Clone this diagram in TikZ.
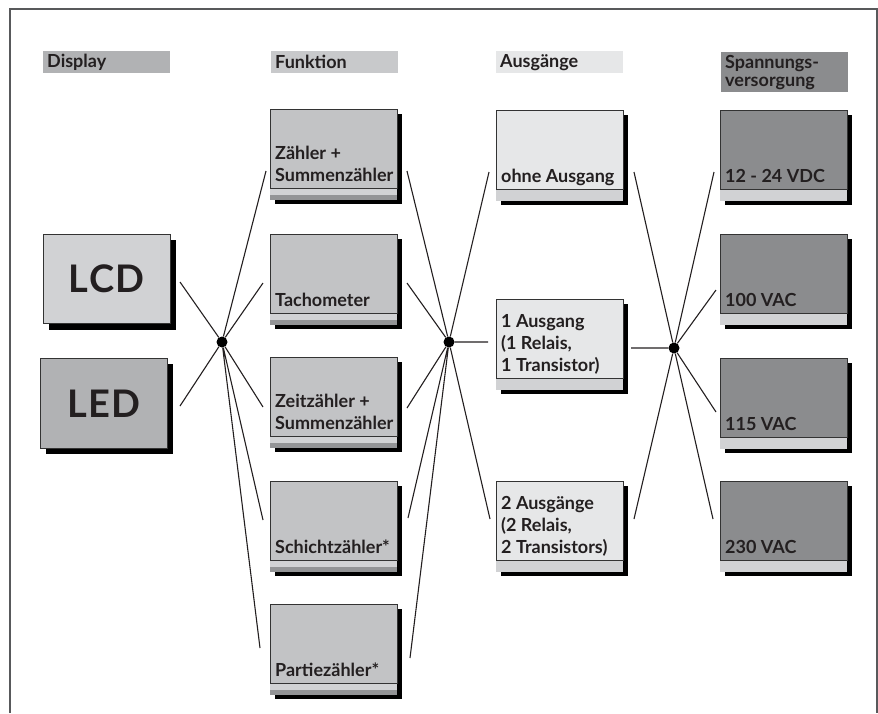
\documentclass[tikz,border=0pt]{standalone}
\usepackage{fontspec}
\setmainfont{Lato}
\usetikzlibrary{calc}

\definecolor{textgrau}{HTML}{231F20}
\definecolor{rahmengrau}{HTML}{58595B}
\definecolor{dispgrau}{HTML}{B1B2B4}
\definecolor{hellgrau}{HTML}{D1D2D4}
\definecolor{funkgrau}{HTML}{C2C3C5}
\definecolor{kopfgrau}{HTML}{C8C9CB}
\definecolor{ausgrau}{HTML}{E6E7E8}
\definecolor{spanngrau}{HTML}{8B8C8E}
\definecolor{streifengrau}{HTML}{939496}

\tikzset{
  kasten/.style={draw=black!80, line width=0.6pt, anchor=north west,
    minimum width=127pt, minimum height=79pt, inner sep=0pt},
  beschriftung/.style={anchor=south west, inner xsep=5pt, inner ysep=4pt,
    text depth=3pt, align=left, text=textgrau,
    font=\bfseries\fontsize{18}{22}\selectfont},
  kopf/.style={anchor=north west, minimum width=127pt, minimum height=22pt,
    text width=119pt, inner xsep=4pt, inner ysep=0pt, align=left, text=textgrau,
    font=\bfseries\fontsize{18}{18}\selectfont},
  punkt/.style={circle, fill=black, inner sep=0pt, minimum size=11pt},
  linie/.style={line width=1.1pt, textgrau},
}

% Funktion: Kasten mit zwei Streifen
\newcommand{\kastenF}[4]{%
  \fill[black] ($(#2)+(5,5)$) rectangle ++(127,90);
  \node[kasten, fill=#3] (#1) at (#2) {};
  \fill[hellgrau] (#1.south west) rectangle ++(127,6);
  \fill[streifengrau] ($(#1.south west)+(0,6)$) rectangle ++(127,5);
  \node[beschriftung] at (#1.south west) {#4};
}
% Ausgaenge, Spannung: Kasten mit einem Streifen
\newcommand{\kastenA}[4]{%
  \fill[black] ($(#2)+(5,5)$) rectangle ++(127,90);
  \node[kasten, fill=#3] (#1) at (#2) {};
  \fill[hellgrau] (#1.south west) rectangle ++(127,11);
  \node[beschriftung] at (#1.south west) {#4};
}

\begin{document}
\begin{tikzpicture}[x=1pt, y=-1pt]
  \useasboundingbox (0,0) rectangle (878,713);
  \draw[rahmengrau, line width=1.2pt] (10,713) -- (10,9) -- (877,9) -- (877,713);

  % Spaltenkoepfe
  \node[kopf, fill=dispgrau] (kdisp) at (43,51) {Display};
  \node[kopf, fill=kopfgrau] (kfunk) at (271,51) {Funktion};
  \node[kopf, fill=ausgrau] (kaus) at (496,51) {Ausgänge};
  \node[kopf, fill=spanngrau, minimum height=40pt] (kspann) at (721,52) {Spannungs-\\versorgung};

  % Display
  \fill[black] (49,240) rectangle ++(127,90);
  \node[kasten, fill=hellgrau, minimum height=89pt,
    font=\bfseries\fontsize{38}{38}\selectfont\addfontfeature{LetterSpace=4}, text=textgrau] (lcd) at (43,234) {LCD};
  \fill[black] (46,364) rectangle ++(127,90);
  \node[kasten, fill=dispgrau, minimum height=90pt,
    font=\bfseries\fontsize{38}{38}\selectfont\addfontfeature{LetterSpace=4}, text=textgrau] (led) at (40,358) {LED};

  % Funktion
  \kastenF{f1}{270,109}{funkgrau}{Zähler +\\Summenzähler}
  \kastenF{f2}{270,234}{funkgrau}{Tachometer}
  \kastenF{f3}{270,357}{funkgrau}{Zeitzähler +\\Summenzähler}
  \kastenF{f4}{270,481}{funkgrau}{Schichtzähler*}
  \kastenF{f5}{270,604}{funkgrau}{Partiezähler*}

  % Ausgaenge
  \kastenA{a1}{496,110}{ausgrau}{ohne Ausgang}
  \kastenA{a2}{496,299}{ausgrau}{1 Ausgang\\(1 Relais,\\1 Transistor)}
  \kastenA{a3}{496,481}{ausgrau}{2 Ausgänge\\(2 Relais,\\2 Transistors)}

  % Spannungsversorgung
  \kastenA{s1}{720,110}{spanngrau}{12 - 24 VDC}
  \kastenA{s2}{720,234}{spanngrau}{100 VAC}
  \kastenA{s3}{720,358}{spanngrau}{115 VAC}
  \kastenA{s4}{720,481}{spanngrau}{230 VAC}

  % Knoten
  \node[punkt] (p1) at (222,342) {};
  \node[punkt] (p2) at (449,342) {};
  \node[punkt] (p3) at (674,348) {};

  \coordinate (lcd-r) at (180,282);
  \coordinate (led-r) at (180,406);
  \coordinate (f1-l) at (266,171);
  \coordinate (f2-l) at (263,283);
  \coordinate (f3-l) at (263,407);
  \coordinate (f4-l) at (263,520);
  \coordinate (f5-l) at (260,648);
  \coordinate (f1-r) at (407,171);
  \coordinate (f2-r) at (407,283);
  \coordinate (f3-r) at (407,408);
  \coordinate (f4-r) at (408,518);
  \coordinate (f5-r) at (410,658);
  \coordinate (a1-l) at (489,172);
  \coordinate (a2-l) at (488,342);
  \coordinate (a3-l) at (490,519);
  \coordinate (a1-r) at (634,172);
  \coordinate (a2-r) at (631,348);
  \coordinate (a3-r) at (634,519);
  \coordinate (s1-l) at (714,172);
  \coordinate (s2-l) at (716,290);
  \coordinate (s3-l) at (716,412);
  \coordinate (s4-l) at (713,519);

  % Verbindungen
  \draw[linie] (p1) -- (lcd-r) (p1) -- (led-r)
    (p1) -- (f1-l) (p1) -- (f2-l) (p1) -- (f3-l) (p1) -- (f4-l) (p1) -- (f5-l);
  \draw[linie] (p2) -- (f1-r) (p2) -- (f2-r) (p2) -- (f3-r) (p2) -- (f4-r) (p2) -- (f5-r)
    (p2) -- (a1-l) (p2) -- (a2-l) (p2) -- (a3-l);
  \draw[linie] (p3) -- (a1-r) (p3) -- (a2-r) (p3) -- (a3-r)
    (p3) -- (s1-l) (p3) -- (s2-l) (p3) -- (s3-l) (p3) -- (s4-l);
\end{tikzpicture}
\end{document}
